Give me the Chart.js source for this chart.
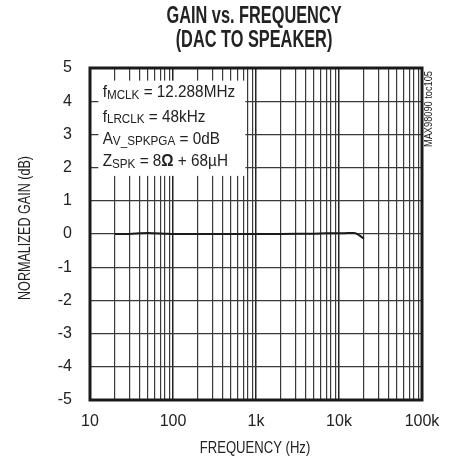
<!DOCTYPE html>
<html><head><meta charset="utf-8">
<script src="https://cdn.jsdelivr.net/npm/chart.js@4"></script>
<style>html,body{margin:0;padding:0;background:#fff}canvas{display:block}</style>
</head><body>
<canvas id="c" width="453" height="461"></canvas>
<script>
// ---- data ----
const freqHz = [20, 30, 40, 50, 60, 80, 100, 200, 500, 1000, 2000, 5000, 7000, 10000, 13000, 15000, 16000, 17500, 19000, 20000];
const gainDb = [0, 0, 0.02, 0.03, 0.02, 0.01, 0, 0, 0, 0, 0, 0.01, 0.02, 0.02, 0.03, 0.03, 0.02, -0.04, -0.1, -0.14];
const xMajorTicks = [10, 100, 1000, 10000, 100000];
const xTickLabels = ['10', '100', '1k', '10k', '100k'];
const xMinorMultipliers = [2, 3, 4, 5, 6, 7, 8, 9];
const yTickValues = [-5, -4, -3, -2, -1, 0, 1, 2, 3, 4, 5];
const titleLines = ['GAIN vs. FREQUENCY', '(DAC TO SPEAKER)'];
const xAxisTitle = 'FREQUENCY (Hz)';
const yAxisTitle = 'NORMALIZED GAIN (dB)';
const sideLabel = 'MAX98090 toc105';
const noteLines = [
  [{t:'f'}, {t:'MCLK', sub:true}, {t:' = 12.288MHz'}],
  [{t:'f'}, {t:'LRCLK', sub:true}, {t:' = 48kHz'}],
  [{t:'A'}, {t:'V_SPKPGA', sub:true}, {t:' = 0dB'}],
  [{t:'Z'}, {t:'SPK', sub:true}, {t:' = 8'}, {t:'Ω', bold:true}, {t:' + 68µH'}]
];
// note box extent in data units
const noteBoxX = [12.6, 745];
const noteBoxY = [1.75, 4.62];
const noteTextX = 14.2;
const noteTextY = [4.12, 3.38, 2.72, 2.05];

const FONT = '"Liberation Sans", Arial, sans-serif';

const xGrid = [];
xMajorTicks.forEach((d, i) => {
  xGrid.push({value: d, major: true});
  if (i < xMajorTicks.length - 1) xMinorMultipliers.forEach(m => xGrid.push({value: d * m, major: false}));
});

function scaledText(ctx, text, x, y, sx, rot) {
  ctx.save();
  ctx.translate(x, y);
  if (rot) ctx.rotate(rot);
  ctx.scale(sx, 1);
  ctx.fillText(text, 0, 0);
  ctx.restore();
}

const decorPlugin = {
  id: 'decor',
  beforeDatasetsDraw(chart) {
    const {ctx, scales: {x, y}} = chart;
    const x0 = x.getPixelForValue(noteBoxX[0]), x1 = x.getPixelForValue(noteBoxX[1]);
    const y0 = y.getPixelForValue(noteBoxY[1]), y1 = y.getPixelForValue(noteBoxY[0]);
    ctx.save();
    ctx.fillStyle = '#fff';
    ctx.fillRect(x0, y0, x1 - x0, y1 - y0);
    ctx.fillStyle = '#222';
    ctx.textBaseline = 'alphabetic';
    ctx.textAlign = 'left';
    const sx = 0.9;
    noteLines.forEach((segs, i) => {
      let px = x.getPixelForValue(noteTextX);
      const py = y.getPixelForValue(noteTextY[i]);
      segs.forEach(s => {
        ctx.font = (s.bold ? 'bold ' : '') + (s.sub ? '13px ' : '17px ') + FONT;
        scaledText(ctx, s.t, px, py + (s.sub ? 1.7 : 0), sx);
        px += ctx.measureText(s.t).width * sx;
      });
    });
    ctx.restore();
  },
  afterDatasetsDraw(chart) {
    const {ctx, chartArea: a} = chart;
    ctx.save();
    ctx.strokeStyle = '#1a1a1a';
    ctx.lineWidth = 3;
    ctx.strokeRect(a.left, a.top, a.right - a.left, a.bottom - a.top);
    ctx.restore();
  },
  afterDraw(chart) {
    const {ctx, chartArea: a} = chart;
    ctx.save();
    ctx.fillStyle = '#222';
    ctx.textAlign = 'center';
    ctx.textBaseline = 'middle';
    const cx = (a.left + a.right) / 2 - 2;
    // title
    ctx.font = 'bold 23px ' + FONT;
    scaledText(ctx, titleLines[0], cx, 17, 0.71);
    scaledText(ctx, titleLines[1], cx, 41, 0.71);
    // axis titles
    ctx.font = '17px ' + FONT;
    scaledText(ctx, xAxisTitle, cx + 1, 448, 0.77);
    scaledText(ctx, yAxisTitle, 25, (a.top + a.bottom) / 2 - 6, 0.74, -Math.PI / 2);
    // side label
    ctx.font = '11px ' + FONT;
    scaledText(ctx, sideLabel, a.right + 7, 109, 0.84, -Math.PI / 2);
    ctx.restore();
  }
};

new Chart(document.getElementById('c'), {
  type: 'line',
  data: {
    datasets: [{
      data: freqHz.map((f, i) => ({x: f, y: gainDb[i]})),
      borderColor: '#1a1a1a',
      borderWidth: 2,
      pointRadius: 0,
      tension: 0.3,
      fill: false
    }]
  },
  options: {
    responsive: false,
    animation: false,
    layout: {padding: {left: 0, top: 68, right: 31, bottom: 0}},
    plugins: {legend: {display: false}, title: {display: false}, tooltip: {enabled: false}},
    scales: {
      x: {
        type: 'logarithmic',
        min: 10, max: 100000,
        afterBuildTicks: s => { s.ticks = xGrid.map(t => ({value: t.value, major: t.major})); },
        afterFit: s => { s.height = 61; },
        ticks: {
          autoSkip: false, maxRotation: 0, padding: 12,
          color: '#222', font: {family: FONT, size: 16},
          callback: v => { const i = xMajorTicks.indexOf(v); return i >= 0 ? xTickLabels[i] : ''; }
        },
        grid: {
          drawTicks: false,
          color: c => (c.tick && c.tick.major) ? '#222' : '#3a3a3a',
          lineWidth: c => (c.tick && c.tick.major) ? 1.5 : 1.2
        },
        border: {display: false}
      },
      y: {
        type: 'linear',
        min: -5, max: 5,
        afterBuildTicks: s => { s.ticks = yTickValues.map(v => ({value: v})); },
        afterFit: s => { s.width = 90; },
        ticks: {padding: 18, color: '#222', font: {family: FONT, size: 16}},
        grid: {drawTicks: false, color: '#3a3a3a', lineWidth: 1.2},
        border: {display: false}
      }
    }
  },
  plugins: [decorPlugin]
});
</script>
</body></html>
